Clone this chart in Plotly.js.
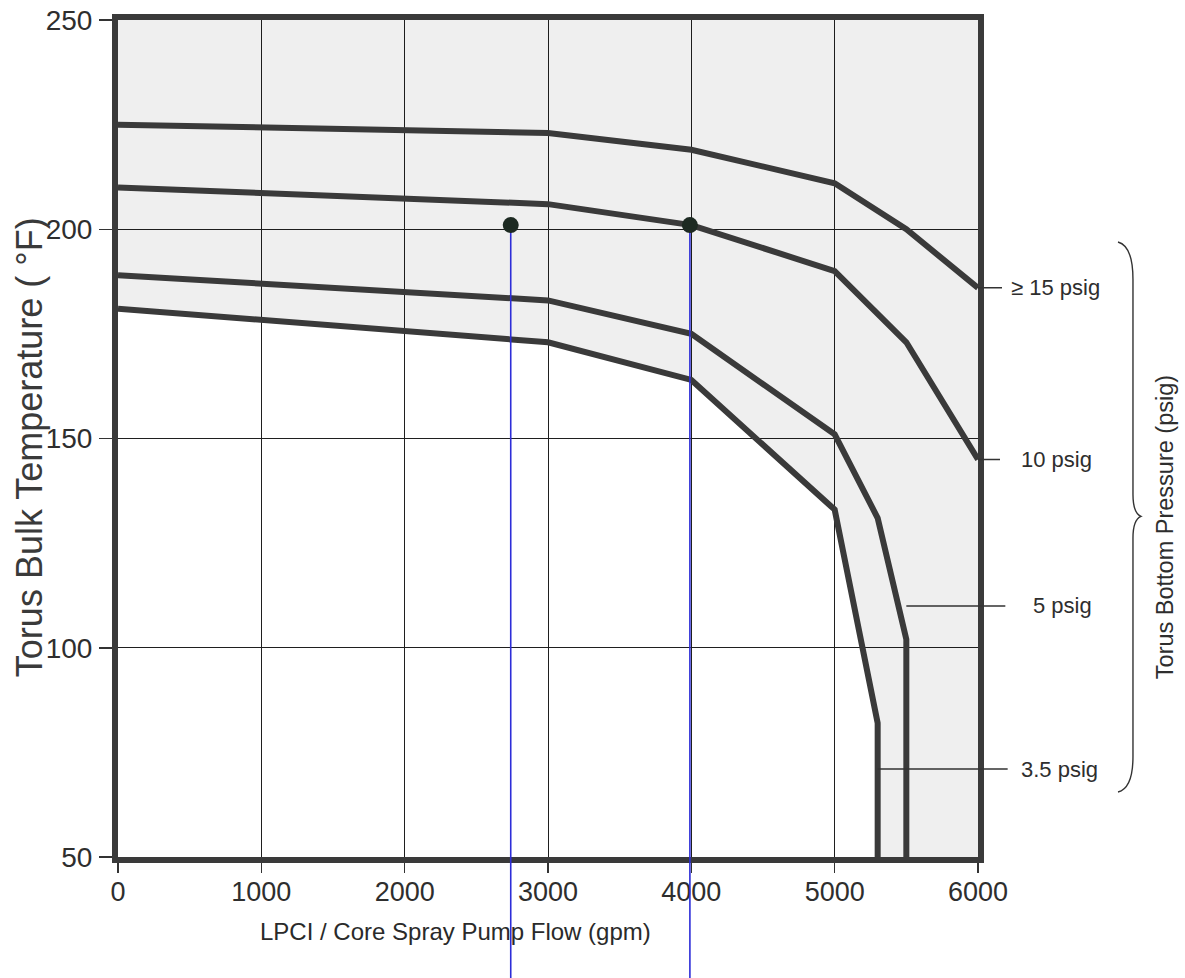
<!DOCTYPE html>
<html>
<head>
<meta charset="utf-8">
<script src="https://cdn.plot.ly/plotly-3.0.1.min.js"></script>
<style>html,body{margin:0;padding:0;background:#fff;}#chart{width:1185px;height:978px;}</style>
</head>
<body>
<div id="chart"></div>
<script>
// ---- data ----
const flowTicks = [0, 1000, 2000, 3000, 4000, 5000, 6000];
const tempTicks = [50, 100, 150, 200, 250];
const xRange = [0, 6000];
const yRange = [50, 250];

// >= 15 psig curve
const flow15 = [0, 3000, 4000, 5000, 5500, 6000];
const temp15 = [225, 223, 219, 211, 200, 186];
// 10 psig curve
const flow10 = [0, 3000, 4000, 5000, 5500, 6000];
const temp10 = [210, 206, 201, 190, 173, 145];
// 5 psig curve
const flow5 = [0, 3000, 4000, 5000, 5300, 5500, 5500];
const temp5 = [189, 183, 175, 151, 131, 102, 50];
// 3.5 psig curve
const flow35 = [0, 3000, 4000, 5000, 5300, 5300];
const temp35 = [181, 173, 164, 133, 82, 50];

// plotted points (hand-marked)
const pointFlow = [2740, 3990];
const pointTemp = [201, 201];

// curve labels: text, flow and temp where the leader starts
const labelText = ['\u2265 15 psig', '10 psig', '5 psig', '3.5 psig'];
const labelFlow = [6000, 6000, 5500, 5300];
const labelTemp = [186, 145, 110, 71];

// ---- styling ----
const curveColor = '#3a3a3a';
const textColor = '#2e2e2e';
const FONT = 'Liberation Sans, Arial, Helvetica, sans-serif';

const traces = [];
// shaded region above/right of the 3.5 psig curve
traces.push({
  x: flow35.concat([xRange[1], xRange[1], xRange[0]]),
  y: temp35.concat([yRange[0], yRange[1], yRange[1]]),
  type: 'scatter', mode: 'lines', fill: 'toself',
  fillcolor: 'rgba(0,0,0,0.062)', line: {width: 0}, hoverinfo: 'skip', showlegend: false
});
[[flow15, temp15], [flow10, temp10], [flow5, temp5], [flow35, temp35]].forEach(function (c) {
  traces.push({x: c[0], y: c[1], type: 'scatter', mode: 'lines',
    line: {color: curveColor, width: 6}, showlegend: false});
});
// blue drop lines inside plot
pointFlow.forEach(function (fx, i) {
  traces.push({x: [fx, fx], y: [pointTemp[i], yRange[0]], type: 'scatter', mode: 'lines',
    line: {color: '#2d2dd8', width: 1.6}, showlegend: false});
});
// dots
traces.push({x: pointFlow, y: pointTemp, type: 'scatter', mode: 'markers',
  marker: {size: 16, color: '#1d2a22'}, showlegend: false});

const shapes = [];
pointFlow.forEach(function (fx) {
  shapes.push({type: 'line', xref: 'x', yref: 'paper', x0: fx, x1: fx, y0: 0, y1: -0.17,
    line: {color: '#2d2dd8', width: 1.6}});
});
// curly brace on the right
shapes.push({type: 'path', xref: 'paper', yref: 'paper',
  path: 'M 1.1628 0.7348 Q 1.1802 0.7300 1.1802 0.6900 L 1.1802 0.4330 Q 1.1802 0.4110 1.1895 0.4070 Q 1.1802 0.4030 1.1802 0.3810 L 1.1802 0.1200 Q 1.1802 0.0820 1.1628 0.0777',
  line: {color: '#333', width: 1.4}});

const offsets = [77, 78, 156, 182];
const gaps = [7, 19, 26, 12];
const annotations = labelText.map(function (t, i) {
  return {x: labelFlow[i], y: labelTemp[i], xref: 'x', yref: 'y', text: t,
    showarrow: true, arrowhead: 0, arrowwidth: 1.5, arrowcolor: '#333',
    ax: offsets[i], ay: 0, startstandoff: gaps[i],
    font: {family: FONT, size: 22, color: textColor}};
});
annotations.push({xref: 'paper', yref: 'paper', x: -0.102, y: 0.49, xanchor: 'center', yanchor: 'middle',
  showarrow: false, text: 'Torus Bulk Temperature ( \u00b0F)', textangle: -90,
  font: {family: FONT, size: 36, color: '#3a3a3a'}});
annotations.push({xref: 'paper', yref: 'paper', x: 0.392, y: -0.0896, xanchor: 'center', yanchor: 'middle',
  showarrow: false, text: 'LPCI / Core Spray Pump Flow (gpm)',
  font: {family: FONT, size: 24, color: '#2a2a2a'}});
annotations.push({xref: 'paper', yref: 'paper', x: 1.2174, y: 0.394, xanchor: 'center', yanchor: 'middle',
  showarrow: false, text: 'Torus Bottom Pressure (psig)', textangle: -90,
  font: {family: FONT, size: 23.5, color: textColor}});

const layout = {
  width: 1185, height: 978,
  margin: {l: 118, r: 207, t: 20, b: 121},
  paper_bgcolor: '#ffffff', plot_bgcolor: '#ffffff',
  showlegend: false,
  xaxis: {range: xRange, tickvals: flowTicks, ticktext: flowTicks.map(String),
    showgrid: true, gridcolor: '#1f1f1f', gridwidth: 1, zeroline: false,
    showline: true, mirror: true, linecolor: '#3a3a3a', linewidth: 6,
    ticks: 'outside', ticklen: 10, tickwidth: 1.5, tickcolor: '#333',
    ticklabelstandoff: -4,
    tickfont: {family: FONT, size: 27, color: textColor}, fixedrange: true},
  yaxis: {range: yRange, tickvals: tempTicks, ticktext: tempTicks.map(String),
    showgrid: true, gridcolor: '#1f1f1f', gridwidth: 1, zeroline: false,
    showline: true, mirror: true, linecolor: '#3a3a3a', linewidth: 6,
    ticks: 'outside', ticklen: 13, tickwidth: 1.5, tickcolor: '#333',
    ticklabelstandoff: 1,
    tickfont: {family: FONT, size: 28, color: textColor}, fixedrange: true},
  shapes: shapes,
  annotations: annotations
};

Plotly.newPlot('chart', traces, layout, {displayModeBar: false, staticPlot: true});
</script>
</body>
</html>
